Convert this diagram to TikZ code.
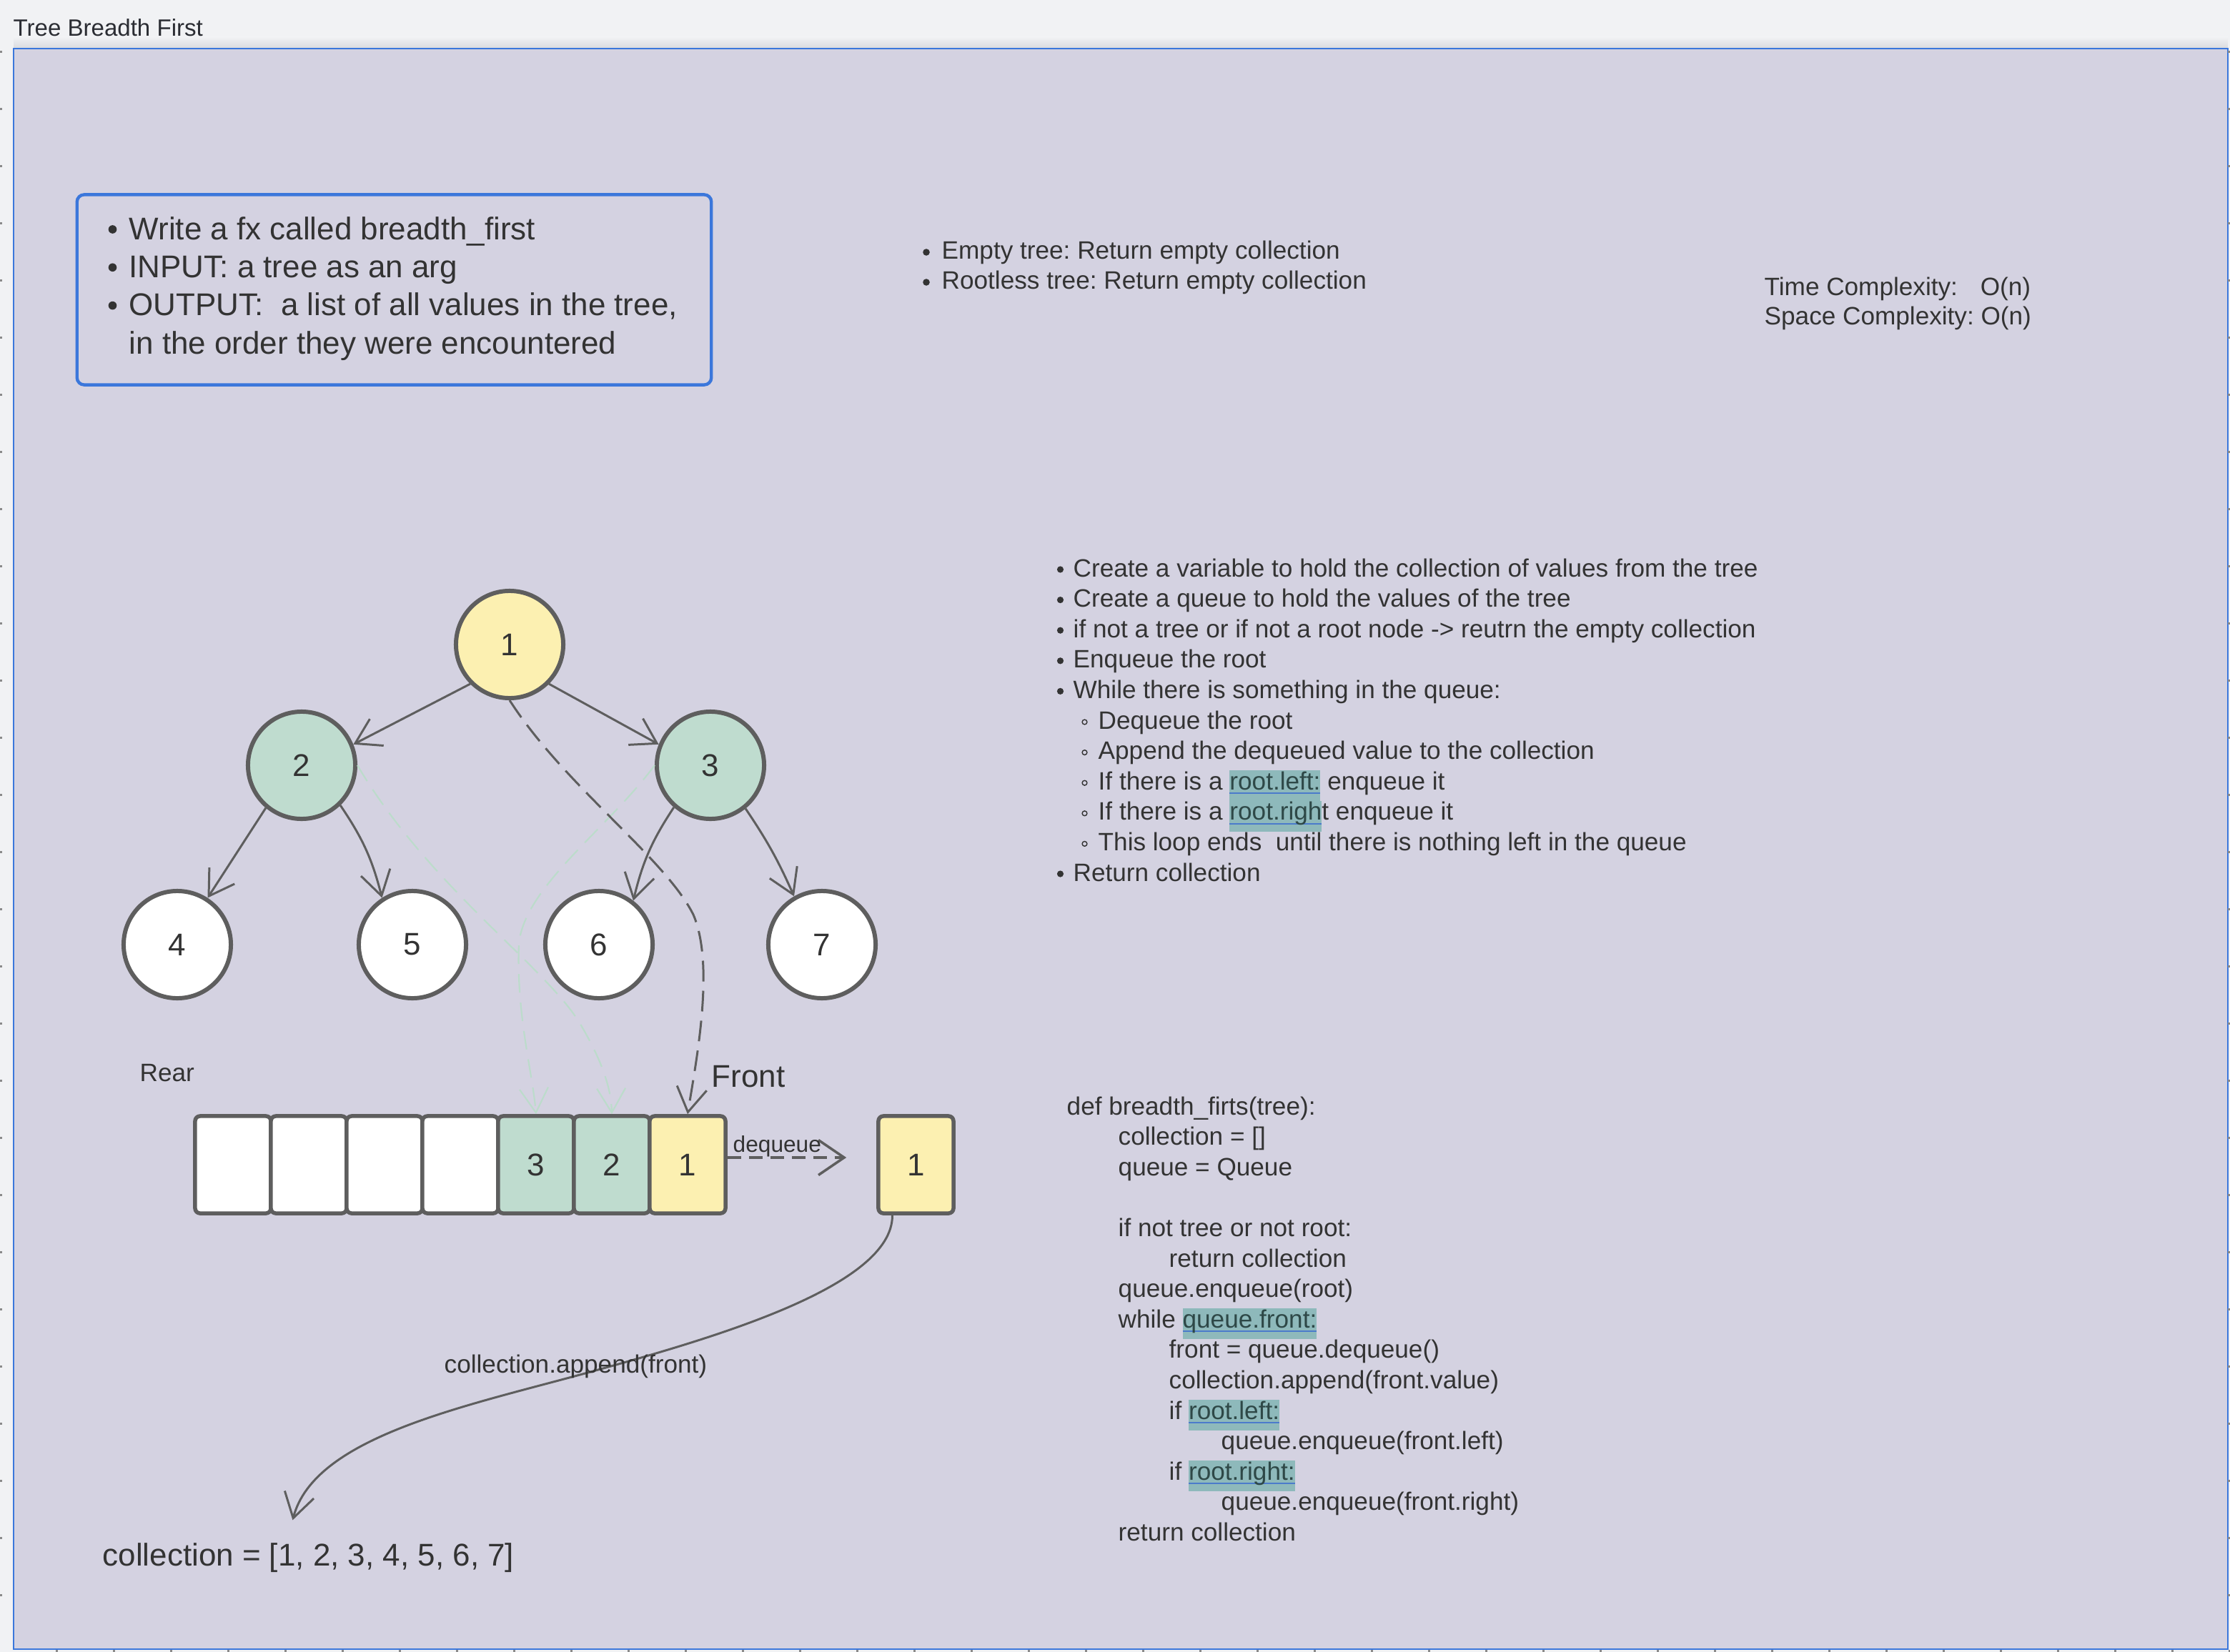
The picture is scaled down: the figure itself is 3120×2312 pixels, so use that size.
\documentclass[tikz,border=0pt]{standalone}
\usepackage{fontspec}
\setmainfont{Liberation Sans}
\usetikzlibrary{arrows.meta,calc}
\frenchspacing
\definecolor{bgc}{HTML}{D4D2E1}
\definecolor{topc}{HTML}{F1F2F4}
\definecolor{shc}{HTML}{D9DADE}
\definecolor{bluec}{HTML}{3B77DB}
\definecolor{tc}{HTML}{333333}
\definecolor{titc}{HTML}{2B2D33}
\definecolor{edgec}{HTML}{5E5E5E}
\definecolor{yelc}{HTML}{FCF0B1}
\definecolor{mintc}{HTML}{BFDCCF}
\definecolor{hlc}{HTML}{8EB9BB}
\definecolor{hltc}{HTML}{2E4847}
\definecolor{ulc}{HTML}{4B7BCB}
\definecolor{fainc}{HTML}{BCDCCB}
\definecolor{tickc}{HTML}{8A8A8A}
\newlength\hlw
\newcommand\hlt[1]{\settowidth{\hlw}{#1}{\setlength{\fboxsep}{0pt}\colorbox{hlc}{\rule[-0.45em]{0pt}{1.22em}\rlap{\textcolor{ulc}{\rule[-0.17em]{\hlw}{0.06em}}}\textcolor{hltc}{#1}}}}
\tikzset{
  midtxt/.style={font=\fontsize{10}{12}\selectfont, text=tc, inner sep=0pt, anchor=base west},
  bigtxt/.style={font=\fontsize{12.5}{15}\selectfont, text=tc, inner sep=0pt, anchor=base west},
  tnode/.style={circle, draw=edgec, line width=1.7pt, minimum size=1.5cm, inner sep=0pt,
    font=\fontsize{12.5}{15}\selectfont, text=tc},
  cell/.style={rectangle, rounded corners=0.07cm, draw=edgec, line width=1.56pt,
    minimum width=1.06cm, minimum height=1.36cm, inner sep=0pt,
    font=\fontsize{12.5}{15}\selectfont, text=tc},
  edgearrow/.style={draw=edgec, line width=0.85pt, -{Straight Barb[length=0.34cm,width=0.42cm]}},
  dashedge/.style={edgearrow, dash pattern=on 0.29cm off 0.13cm},
  faint/.style={draw=fainc, line width=0.6pt, dash pattern=on 0.26cm off 0.14cm,
    -{Straight Barb[length=0.34cm,width=0.40cm]}},
  deqarrow/.style={draw=edgec, line width=1.0pt, dash pattern=on 0.19cm off 0.11cm,
    -{Straight Barb[length=0.36cm,width=0.49cm]}},
  bigdot/.style={fill=tc, draw=none},
  subdot/.style={draw=tc, line width=0.4pt, fill=none}
}
\begin{document}
\begin{tikzpicture}[x=0.01cm, y=-0.01cm]
\useasboundingbox (0,0) rectangle (3120,2312);
% page and canvas
\fill[topc] (0,0) rectangle (3120,2312);
\shade[top color=topc, bottom color=shc] (19,52) rectangle (3117,68);
\draw[bluec, line width=0.75pt, fill=bgc] (19,68) rectangle (3117,2308);
\foreach \i in {0,...,38} {
  \fill[tickc] (78+\i*80,2309) rectangle ++(3,3);
}
\foreach \j in {0,...,27} {
  \fill[tickc] (0,71+\j*80) rectangle ++(3,3);
  \fill[tickc] (3117,71+\j*80) rectangle ++(3,3);
}
\node[font=\fontsize{9.4}{11}\selectfont, text=titc, inner sep=0pt, anchor=base west] (title) at (18,50.7) {Tree Breadth First};

% problem box
\node[draw=bluec, line width=1.25pt, rounded corners=0.1cm, minimum width=8.87cm, minimum height=2.66cm] (pbox) at (551.5,405.5) {};
\foreach \y in {335,388.3,441.6} {
  \fill[bigdot] (157.5,\y-14) circle[radius=0.058cm];
}
\node[bigtxt] (b1) at (180,335) {Write a fx called breadth\_first};
\node[bigtxt] (b2) at (180,388.3) {INPUT: a tree as an arg};
\node[bigtxt] (b3) at (180,441.6) {OUTPUT:\ \ a list of all values in the tree,};
\node[bigtxt] (b4) at (180,495) {in the order they were encountered};

% edge cases
\foreach \y in {363,405} {
  \fill[bigdot] (1296,\y-10) circle[radius=0.048cm];
}
\node[midtxt] (et1) at (1317,363) {Empty tree: Return empty collection};
\node[midtxt] (et2) at (1317,405) {Rootless tree: Return empty collection};

% complexity
\node[midtxt] (tc1) at (2468,413) {\makebox[3.02cm][l]{Time Complexity:}O(n)};
\node[midtxt] (tc2) at (2468,454) {Space Complexity: O(n)};

% steps
\foreach \y in {807,849.6,892.2,934.8,977.4,1233} {
  \fill[bigdot] (1483.5,\y-10) circle[radius=0.046cm];
}
\foreach \y in {1020,1062.6,1105.2,1147.8,1190.4} {
  \draw[subdot] (1517.5,\y-9.5) circle[radius=0.034cm];
}
\node[midtxt] (s1) at (1501,807) {Create a variable to hold the collection of values from the tree};
\node[midtxt] (s2) at (1501,849.6) {Create a queue to hold the values of the tree};
\node[midtxt] (s3) at (1501,892.2) {if not a tree or if not a root node -> reutrn the empty collection};
\node[midtxt] (s4) at (1501,934.8) {Enqueue the root};
\node[midtxt] (s5) at (1501,977.4) {While there is something in the queue:};
\node[midtxt] (s6) at (1536,1020) {Dequeue the root};
\node[midtxt] (s7) at (1536,1062.6) {Append the dequeued value to the collection};
\node[midtxt] (s8) at (1536,1105.2) {If there is a \hlt{root.left:} enqueue it};
\node[midtxt] (s9) at (1536,1147.8) {If there is a \hlt{root.righ}t enqueue it};
\node[midtxt] (s10) at (1536,1190.4) {This loop ends\ \ until there is nothing left in the queue};
\node[midtxt] (s11) at (1501,1233) {Return collection};

% code
\node[midtxt] (k1) at (1492,1560) {def breadth\_firts(tree):};
\node[midtxt] (k2) at (1564,1602.6) {collection = []};
\node[midtxt] (k3) at (1564,1645.2) {queue = Queue};
\node[midtxt] (k5) at (1564,1730.4) {if not tree or not root:};
\node[midtxt] (k6) at (1635,1773) {return collection};
\node[midtxt] (k7) at (1564,1815.6) {queue.enqueue(root)};
\node[midtxt] (k8) at (1564,1858.2) {while \hlt{queue.front:}};
\node[midtxt] (k9) at (1635,1900.8) {front = queue.dequeue()};
\node[midtxt] (k10) at (1635,1943.4) {collection.append(front.value)};
\node[midtxt] (k11) at (1635,1986) {if \hlt{root.left:}};
\node[midtxt] (k12) at (1708,2028.6) {queue.enqueue(front.left)};
\node[midtxt] (k13) at (1635,2071.2) {if \hlt{root.right:}};
\node[midtxt] (k14) at (1708,2113.8) {queue.enqueue(front.right)};
\node[midtxt] (k15) at (1564,2156.4) {return collection};

% tree
\node[tnode, fill=yelc] (n1) at (713,902) {1};
\node[tnode, fill=mintc] (n2) at (422,1071) {2};
\node[tnode, fill=mintc] (n3) at (994,1071) {3};
\node[tnode, fill=white] (n4) at (248,1322) {4};
\node[tnode, fill=white] (n5) at (577,1322) {5};
\node[tnode, fill=white] (n6) at (838,1322) {6};
\node[tnode, fill=white] (n7) at (1150,1322) {7};

\draw[edgearrow] (n1.225) -- (n2.22);
\draw[edgearrow] (n1.-45) -- (n3.158);
\draw[edgearrow] (n2.230) -- (n4.57);
\draw[edgearrow] (n2.-46) to[bend left=10] (n5.123);
\draw[edgearrow] (n3.229) to[bend right=10] (n6.52);
\draw[edgearrow] (n3.-51) to[bend left=5] (n7.120);

% queue
\node[cell, fill=white] (e4) at (326,1630) {};
\node[cell, fill=white] (e3) at (432,1630) {};
\node[cell, fill=white] (e2) at (538,1630) {};
\node[cell, fill=white] (e1) at (644,1630) {};
\node[cell, fill=mintc] (c3) at (750,1630) {3};
\node[cell, fill=mintc] (c2) at (856,1630) {2};
\node[cell, fill=yelc] (c1) at (962,1630) {1};
\node[cell, fill=yelc, minimum width=1.05cm] (q) at (1281.5,1630) {1};

\node[font=\fontsize{10}{12}\selectfont, text=tc, inner sep=0pt, anchor=base west] (rear) at (195,1513) {Rear};
\node[bigtxt] (front) at (995,1521) {Front};

% faint enqueue traces
\draw[faint] (n2.east) .. controls (600,1240) and (760,1350) .. (810,1430) .. controls (840,1480) and (855,1520) .. (c2.north);
\draw[faint] (n3.west) .. controls (850,1160) and (735,1240) .. (726,1320) .. controls (722,1420) and (745,1500) .. (c3.north);

% root to front
\draw[dashedge] (n1.-90) .. controls (790,1100) and (930,1200) .. (970,1280) .. controls (1000,1350) and (975,1480) .. (c1.north);

% dequeue
\draw[deqarrow, shorten >=0.42cm] ([yshift=0.1cm]c1.east) -- ([yshift=0.1cm]q.west);
\node[font=\fontsize{9}{11}\selectfont, text=tc, inner sep=0pt, anchor=base west] (deq) at (1025,1612) {dequeue};

% collection
\node[bigtxt] (coll) at (143,2191) {collection = [1, 2, 3, 4, 5, 6, 7]};
\draw[edgearrow] (q.-115) .. controls (1249,1800) and (1000,1872) .. (826,1920) .. controls (652,1968) and (440,2010) .. ($(coll.north)+(-22,-31)$);
\node[midtxt] (app) at (621,1921) {collection.append(front)};
\end{tikzpicture}
\end{document}
